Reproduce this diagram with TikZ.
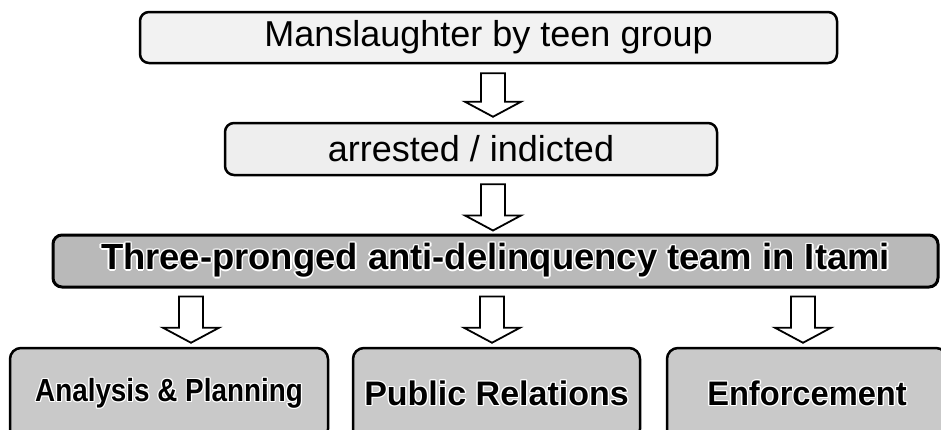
\documentclass[tikz,border=0pt]{standalone}
\usepackage{fontspec}
\setmainfont{Liberation Sans}
\usepackage{contour}
\usetikzlibrary{calc}
\contourlength{1.4pt}
\contournumber{8}

\tikzset{
  box/.style={draw=black, line width=2.5pt, rounded corners=9pt, inner sep=0pt, align=center},
  lightbox/.style={box, fill=gray!10, font=\fontsize{36}{40}\selectfont},
  darkbox/.style={box, line width=3pt, fill=gray!55, font=\bfseries\fontsize{36.4}{40}\selectfont},
  branchbox/.style={box, fill=gray!42, rounded corners=11pt, minimum height=92pt},
  blockarrow/.style={draw=black, line width=1.8pt, fill=white, line join=miter},
}

% hollow block arrow pointing down: #1 = top of the shaft, #2 = tip
\newcommand\downblockarrow[2]{%
  \draw[blockarrow] let \p1=(#1), \p2=(#2) in
    (\x1-12pt,\y1) -- (\x1+12pt,\y1) -- (\x1+12pt,\y2+15pt) -- (\x1+28pt,\y2+15pt)
    -- (\x1,\y2) -- (\x1-28pt,\y2+15pt) -- (\x1-12pt,\y2+15pt) -- cycle;}

\begin{document}
\begin{tikzpicture}[x=1pt, y=-1pt]
  \useasboundingbox (0,0) rectangle (941,429);
  \clip (0,0) rectangle (941,429);

  % chain of events
  \node[lightbox, minimum width=697pt, minimum height=51pt] (m) at (488.5,37.5) {Manslaughter by teen group};
  \node[lightbox, fill=gray!13, minimum width=492pt, minimum height=52pt] (r) at (471,149) {arrested / indicted};
  \node[darkbox, minimum width=885pt, minimum height=52pt] (t) at (495.5,261)
    {\contour{white}{Three-pronged anti-delinquency team in Itami}};

  % the three prongs (their lower edges run past the page)
  \node[branchbox, minimum width=318pt, font=\bfseries\fontsize{32}{36}\selectfont] (ap) at (169,394)
    {\scalebox{0.87}[1]{\contour{white}{Analysis \& Planning}}};
  \node[branchbox, minimum width=287pt, font=\bfseries\fontsize{34}{38}\selectfont] (pr) at (496.5,394)
    {\contour{white}{Public Relations}};
  \node[branchbox, minimum width=280pt, font=\bfseries\fontsize{34}{38}\selectfont] (en) at (807,394)
    {\scalebox{0.96}[1]{\contour{white}{Enforcement}}};

  % arrow end points
  \coordinate (s1) at ($(m.south)+(4.5,9)$);
  \coordinate (e1) at ($(r.north)+(22,-5)$);
  \coordinate (s2) at ($(r.south)+(22,8)$);
  \coordinate (e2) at ($(t.north)+(-2.5,-3)$);
  \coordinate (s3) at ($(t.south)+(-304.5,8)$);
  \coordinate (e3) at ($(ap.north)+(22,-4)$);
  \coordinate (s4) at ($(t.south)+(-3.5,8)$);
  \coordinate (e4) at ($(pr.north)+(-4.5,-4)$);
  \coordinate (s5) at ($(t.south)+(307.5,8)$);
  \coordinate (e5) at ($(en.north)+(-4,-4)$);

  \downblockarrow{s1}{e1}
  \downblockarrow{s2}{e2}
  \downblockarrow{s3}{e3}
  \downblockarrow{s4}{e4}
  \downblockarrow{s5}{e5}
\end{tikzpicture}
\end{document}
